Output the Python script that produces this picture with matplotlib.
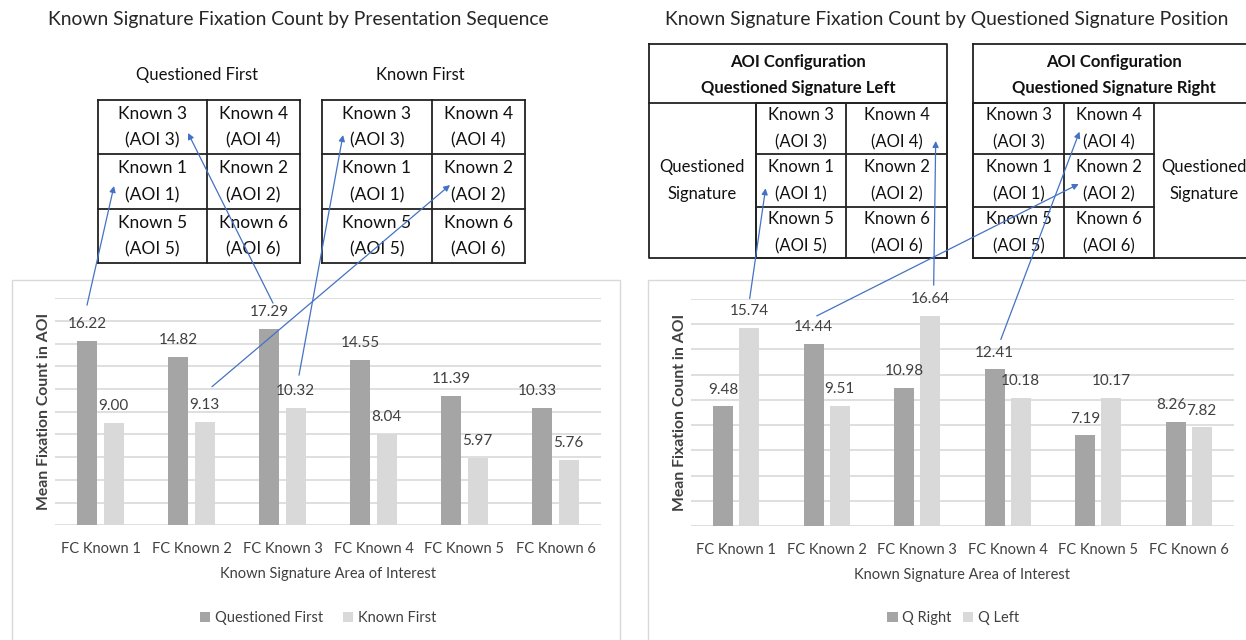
import numpy as np
import matplotlib
matplotlib.use('Agg')
import matplotlib.pyplot as plt
from matplotlib.patches import Rectangle
from matplotlib.transforms import ScaledTranslation

plt.rcParams['font.family'] = ['Lato', 'DejaVu Sans']

# data
categories = ['FC Known 1', 'FC Known 2', 'FC Known 3', 'FC Known 4', 'FC Known 5', 'FC Known 6']
questioned_first = [16.22, 14.82, 17.29, 14.55, 11.39, 10.33]
known_first = [9.00, 9.13, 10.32, 8.04, 5.97, 5.76]
q_right = [9.48, 14.44, 10.98, 12.41, 7.19, 8.26]
q_left = [15.74, 9.51, 16.64, 10.18, 10.17, 7.82]

W, H = 1246, 640
DARK = '#a5a5a5'
LIGHT = '#d9d9d9'
GRID = '#d9d9d9'
TXT = '#404040'
BLUE = '#4472c4'

fig = plt.figure(figsize=(W / 100, H / 100), dpi=100)

# background layer in pixel coords (frames, tables, titles)
bg = fig.add_axes([0, 0, 1, 1], zorder=0)
bg.set_xlim(0, W)
bg.set_ylim(H, 0)
bg.axis('off')

# overlay layer for the arrows
ov = fig.add_axes([0, 0, 1, 1], zorder=3)
ov.set_xlim(0, W)
ov.set_ylim(H, 0)
ov.axis('off')
ov.patch.set_alpha(0)


def px_axes(x0, y0, x1, y1):
    return fig.add_axes([x0 / W, 1 - y1 / H, (x1 - x0) / W, (y1 - y0) / H], zorder=1)


def bar_chart(ax, s1, s2, ymax, wpx):
    x = np.arange(len(categories))
    b1 = ax.bar(x - 0.143, s1, width=0.22, color=DARK, zorder=2)
    b2 = ax.bar(x + 0.143, s2, width=0.22, color=LIGHT, zorder=2)
    t1 = ax.bar_label(b1, fmt='%.2f', padding=7, color=TXT, fontsize=11)
    ax.bar_label(b2, fmt='%.2f', padding=7, color=TXT, fontsize=11)
    # last dark label nudged left like the original
    t1[-1].xyann = (-3.5, 7)
    ax.set_xlim(-0.5, len(categories) - 0.5)
    ax.set_ylim(0, ymax)
    ax.set_yticks(np.arange(0, ymax + 1, 2))
    ax.yaxis.grid(True, color=GRID, lw=1.2, zorder=0)
    ax.set_yticklabels([])
    ax.set_xticks(x)
    ax.set_xticklabels(categories, color=TXT, fontsize=10.5)
    ax.tick_params(length=0, pad=12)
    for s in ax.spines.values():
        s.set_visible(False)
    ax.patch.set_alpha(0)
    ax.set_xlabel('Known Signature Area of Interest', color=TXT, fontsize=10.5, labelpad=8)
    ax.set_ylabel('Mean Fixation Count in AOI', color=TXT, fontsize=11.3,
                  fontweight='bold')
    ax.yaxis.set_label_coords(-4 / wpx, 0.5)
    return b1, b2


# chart frames
bg.add_patch(Rectangle((12, 280), 608, 380, fill=False, ec=GRID, lw=1))
bg.add_patch(Rectangle((648, 280), 620, 380, fill=False, ec=GRID, lw=1))

# titles
bg.text(298, 19, 'Known Signature Fixation Count by Presentation Sequence',
        ha='center', va='center', fontsize=13.9, color='#262626')
bg.text(947, 19, 'Known Signature Fixation Count by Questioned Signature Position',
        ha='center', va='center', fontsize=13.9, color='#262626')

axL = px_axes(55, 298.3, 601, 525.3)
bL = bar_chart(axL, questioned_first, known_first, 20, 546)
axR = px_axes(691, 299, 1234, 526)
bR = bar_chart(axR, q_right, q_left, 18, 543)

fig.legend(bL, ['Questioned First', 'Known First'], loc='center',
           bbox_to_anchor=(318 / W, 1 - 618 / H), ncol=2, frameon=False,
           handlelength=0.7, handleheight=0.7, handletextpad=0.3,
           columnspacing=1.4, fontsize=10.5, labelcolor=TXT)
fig.legend(bR, ['Q Right', 'Q Left'], loc='center',
           bbox_to_anchor=(953 / W, 1 - 618 / H), ncol=2, frameon=False,
           handlelength=0.7, handleheight=0.7, handletextpad=0.3,
           columnspacing=0.8, fontsize=10.5, labelcolor=TXT)

# AOI grids
grid_rows = [(3, 4), (1, 2), (5, 6)]


def cell_text(xc, yc, lines, **kw):
    bg.text(xc, yc - 13.5, lines[0], ha='center', va='center', **kw)
    bg.text(xc, yc + 13.5, lines[1], ha='center', va='center', **kw)


def aoi_grid(cols, rows, lw=1.3, fs=12.5):
    for xc in cols:
        bg.plot([xc, xc], [rows[0], rows[-1]], color='#222222', lw=lw)
    for yr in rows:
        bg.plot([cols[0], cols[-1]], [yr, yr], color='#222222', lw=lw)
    for i, pair in enumerate(grid_rows):
        yc = (rows[i] + rows[i + 1]) / 2
        for j, k in enumerate(pair):
            xc = (cols[j] + cols[j + 1]) / 2
            cell_text(xc, yc, ['Known %d' % k, '(AOI %d)' % k], fontsize=fs, color='#111111')


rows_L = [100, 154.3, 209.3, 263.3]
bg.text(197, 75, 'Questioned First', ha='center', va='center', fontsize=12, color='#111111')
aoi_grid([97.7, 207, 300], rows_L)
bg.text(420, 75, 'Known First', ha='center', va='center', fontsize=12, color='#111111')
aoi_grid([322.3, 431.7, 525], rows_L)

# right side configurations
rows_R = [102.7, 154.3, 206.7, 258.3]
for x0, x1, side in [(648.5, 947.3, 'Left'), (973.2, 1254, 'Right')]:
    bg.plot([x0, x1, x1, x0, x0], [44, 44, 258.3, 258.3, 44], color='#222222', lw=1.3)
    bg.plot([x0, x1], [102.7, 102.7], color='#222222', lw=1.3)
    cell_text((x0 + x1) / 2, 75, ['AOI Configuration', 'Questioned Signature ' + side],
              fontsize=12, fontweight='bold', color='#111111')
aoi_grid([756, 846, 947.3], rows_R, fs=12)
aoi_grid([973.2, 1064.4, 1154], rows_R, fs=12)
bg.plot([756, 756], [102.7, 258.3], color='#222222', lw=1.3)
cell_text(702, 180.5, ['Questioned', 'Signature'], fontsize=12, color='#111111')
cell_text(1204, 180.5, ['Questioned', 'Signature'], fontsize=12, color='#111111')

# arrows from value labels to the AOI cells
# (axes, bar container, index, label-top offset px (dx, dy), head in pixels)
links = [
    (axL, bL[0], 0, (-0.5, 36), (114, 186)),
    (axL, bL[0], 2, (3.5, 26), (188, 133)),
    (axL, bL[1], 2, (3.5, 33), (343, 135)),
    (axL, bL[1], 1, (7.5, 35), (450, 185)),
    (axR, bR[1], 0, (0.5, 29), (765.6, 188.3)),
    (axR, bR[0], 1, (3, 28), (1078.7, 184)),
    (axR, bR[1], 2, (3.5, 31), (935.7, 141)),
    (axR, bR[0], 3, (6, 30), (1079.5, 131.7)),
]
for ax, bars, i, (dx, dy), head in links:
    r = bars[i]
    tail = (r.get_x() + r.get_width() / 2, r.get_height())
    tr = ax.transData + ScaledTranslation(dx / 100, dy / 100, fig.dpi_scale_trans)
    ov.annotate('', xy=head, xycoords='data', xytext=tail, textcoords=tr,
                arrowprops=dict(arrowstyle='-|>', color=BLUE, lw=0.9,
                                mutation_scale=9, shrinkA=0, shrinkB=0))

fig.savefig('out.png', dpi=100)
